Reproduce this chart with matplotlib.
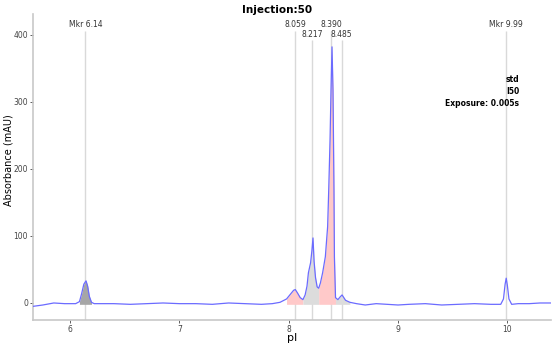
import numpy as np
import matplotlib
matplotlib.use("Agg")
import matplotlib.pyplot as plt

# trace (pI, absorbance mAU)
pi = [5.66, 5.75, 5.85, 5.95, 6.05, 6.085, 6.105, 6.125, 6.145, 6.16, 6.175, 6.195, 6.22,
      6.3, 6.4, 6.55, 6.7, 6.85, 7.0, 7.15, 7.3, 7.45, 7.6, 7.75, 7.85, 7.92,
      7.98, 8.02, 8.045, 8.06, 8.08, 8.105, 8.13, 8.15, 8.167, 8.18, 8.20, 8.212,
      8.222, 8.232, 8.245, 8.26, 8.274, 8.29, 8.31, 8.335, 8.356, 8.366, 8.378,
      8.387, 8.396, 8.405, 8.414, 8.418, 8.428, 8.45, 8.47, 8.488, 8.50, 8.52,
      8.56, 8.62, 8.7, 8.8, 8.9, 9.0, 9.1, 9.25, 9.4, 9.55, 9.7, 9.85, 9.94,
      9.965, 9.98, 9.99, 10.0, 10.015, 10.04, 10.1, 10.2, 10.3, 10.4]
absorb = [-5, -3, 0, -1, -1, 2, 14, 28, 33, 25, 10, 1, -1,
          -1, -1, -2, -1, 0, -1, -1, -2, 0, -1, -2, -1, 1,
          6, 14, 19, 20, 15, 8, 5, 12, 25, 45, 60, 78,
          97, 62, 38, 24, 22, 30, 45, 69, 114, 169, 243,
          318, 382, 318, 169, 69, 8, 5, 9, 12, 9, 4,
          1, -1, -3, -1, -2, -3, -2, -1, -3, -2, -1, -2, -2,
          6, 28, 37, 27, 6, -2, -1, -1, 0, 0]

markers = [6.14, 9.99]
marker_labels = ["Mkr 6.14", "Mkr 9.99"]
peaks = [8.059, 8.217, 8.390, 8.485]
peak_labels = ["8.059", "8.217", "8.390", "8.485"]
peak_row = [0, 1, 0, 1]

# integration regions: (start, end, colour)
regions = [(7.98, 8.13, "#ffc9c9"), (8.13, 8.274, "#dcdcdc"),
           (8.274, 8.428, "#ffc9c9"), (8.428, 8.56, "#dcdcdc"),
           (6.085, 6.195, "#a6a6a6")]

x = np.array(pi)
y = np.array(absorb)

fig = plt.figure(figsize=(5.54, 3.46), dpi=100)
ax = fig.add_axes([0.0596, 0.0751, 0.935, 0.8844])

for a, b, c in regions:
    m = (x >= a) & (x <= b)
    ax.fill_between(x, y, -2, where=m, color=c, lw=0, zorder=1)

top_row = [406, 392]
lab_row = [416, 401]
for v, t in zip(markers, marker_labels):
    ax.vlines(v, -26, 406, color="#d9d9d9", lw=1, zorder=0)
    ax.text(v, 416, t, ha="center", va="center", fontsize=5.5, color="#333333")
for v, t, r in zip(peaks, peak_labels, peak_row):
    ax.vlines(v, -26, top_row[r], color="#d9d9d9", lw=1, zorder=0)
    ax.text(v, lab_row[r], t, ha="center", va="center", fontsize=5.5, color="#333333")

ax.plot(x, y, color="#6b6bff", lw=0.9, zorder=3)

ax.text(10.11, 333, "std", ha="right", va="center", fontsize=5.5, fontweight="bold")
ax.text(10.11, 315, "I50", ha="right", va="center", fontsize=5.5, fontweight="bold")
ax.text(10.11, 297, "Exposure: 0.005s", ha="right", va="center", fontsize=5.5, fontweight="bold")

ax.set_xlim(5.66, 10.40)
ax.set_ylim(-25.4, 431)
ax.set_xticks([6, 7, 8, 9, 10])
ax.set_yticks([0, 100, 200, 300, 400])
ax.tick_params(labelsize=5.5, colors="#444444", length=2, width=0.6, pad=1.5)
for s in ["top", "right"]:
    ax.spines[s].set_visible(False)
for s in ["left", "bottom"]:
    ax.spines[s].set_color("#c8c8c8")
    ax.spines[s].set_linewidth(1.2)

fig.text(292 / 554, 1 - 338 / 346, "pI", ha="center", va="center", fontsize=8)
fig.text(9 / 554, 1 - 160 / 346, "Absorbance (mAU)", ha="center", va="center",
         rotation=90, fontsize=7)
fig.text(0.5, 0.985, "Injection:50", ha="center", va="top", fontsize=7.5, fontweight="bold")

fig.savefig("out.png", dpi=100)
